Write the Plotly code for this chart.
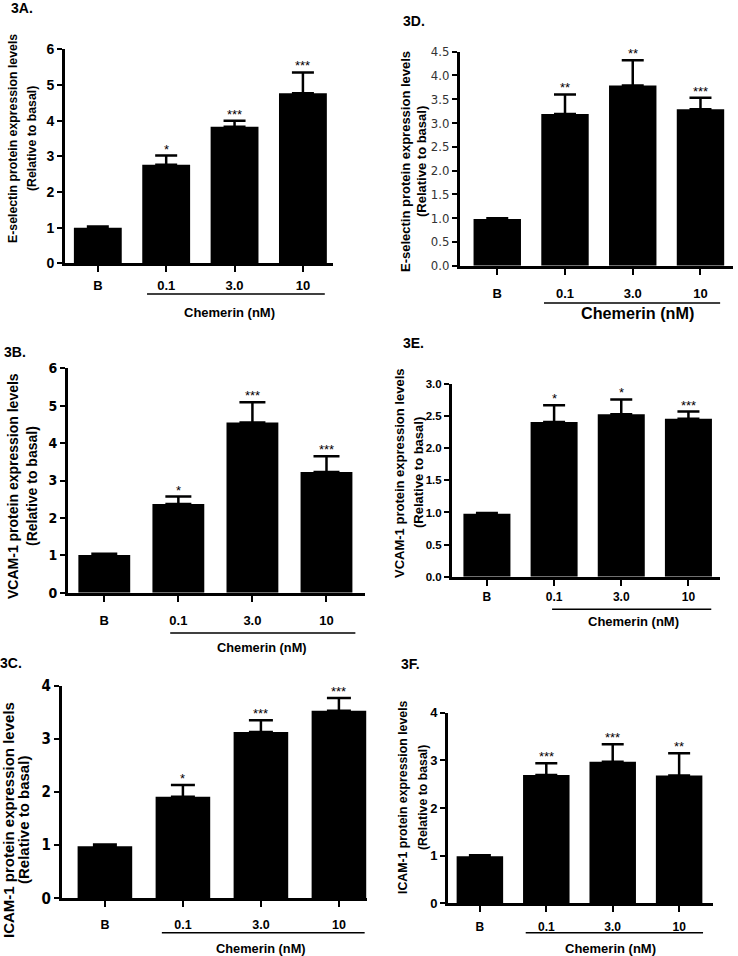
import plotly.graph_objects as go

W, H = 738, 956

# ---------------- data ----------------
categories = ["B", "0.1", "3.0", "10"]

esel_a_mean = [1.00, 2.76, 3.83, 4.77]
esel_a_err = [0.03, 0.26, 0.17, 0.58]
esel_a_sig = ["", "*", "***", "***"]

esel_d_mean = [0.98, 3.19, 3.79, 3.29]
esel_d_err = [0.02, 0.41, 0.53, 0.24]
esel_d_sig = ["", "**", "**", "***"]

vcam_b_mean = [1.01, 2.37, 4.55, 3.23]
vcam_b_err = [0.03, 0.20, 0.54, 0.42]
vcam_b_sig = ["", "*", "***", "***"]

vcam_e_mean = [0.98, 2.41, 2.53, 2.46]
vcam_e_err = [0.01, 0.26, 0.23, 0.11]
vcam_e_sig = ["", "*", "*", "***"]

icam_c_mean = [0.98, 1.91, 3.13, 3.53]
icam_c_err = [0.03, 0.22, 0.22, 0.24]
icam_c_sig = ["", "*", "***", "***"]

icam_f_mean = [0.99, 2.69, 2.97, 2.68]
icam_f_err = [0.02, 0.25, 0.37, 0.47]
icam_f_sig = ["", "***", "***", "**"]

group_label = "Chemerin (nM)"
ytitle_esel = "E-selectin protein expression levels"
ytitle_vcam = "VCAM-1 protein expression levels"
ytitle_icam = "ICAM-1 protein expression levels"
ytitle_sub = "(Relative to basal)"

# ---------------- layout config (pixels) ----------------
ARIAL = "Liberation Sans, Arial, sans-serif"
NARROW = "Liberation Sans Narrow, Arial Narrow, DejaVu Sans Condensed, sans-serif"

panels = [
    dict(label="3A.", lab_xy=(22, 8), mean=esel_a_mean, err=esel_a_err, sig=esel_a_sig,
         yt=ytitle_esel, yt_x=(13, 32), yt_y=139, yt_fs=12.3,
         x_px=(65, 333), y_px=(49.3, 263.3), xr=(-0.48, 3.44), yr=6, dtick=1, fmt="d",
         ytf=dict(family=ARIAL, size=14, color="black", weight="bold"),
         xfs=13, xlab_dist=19, ul=(0.72, 3.32, 294), gl=(1.93, 312, 13), cap=11),
    dict(label="3D.", lab_xy=(414, 21), mean=esel_d_mean, err=esel_d_err, sig=esel_d_sig,
         yt=ytitle_esel, yt_x=(406, 422), yt_y=162, yt_fs=13,
         x_px=(460, 733), y_px=(51.7, 265.7), xr=(-0.55, 3.48), yr=4.5, dtick=0.5, fmt=".1f",
         ytf=dict(family=NARROW, size=13, color="#333333", weight="normal"),
         xfs=13, xlab_dist=25, ul=(0.69, 3.29, 303), gl=(2.07, 313, 16.2), cap=11),
    dict(label="3B.", lab_xy=(15, 352), mean=vcam_b_mean, err=vcam_b_err, sig=vcam_b_sig,
         yt=ytitle_vcam, yt_x=(13, 32), yt_y=486, yt_fs=14,
         x_px=(68, 365), y_px=(368.3, 592.7), xr=(-0.49, 3.52), yr=6, dtick=1, fmt="d",
         ytf=dict(family=NARROW, size=14, color="black", weight="bold"),
         xfs=13, xlab_dist=25.5, ul=(0.89, 3.39, 633), gl=(2.13, 647, 12.8), cap=13),
    dict(label="3E.", lab_xy=(413, 343), mean=vcam_e_mean, err=vcam_e_err, sig=vcam_e_sig,
         yt=ytitle_vcam, yt_x=(399, 418), yt_y=473, yt_fs=13,
         x_px=(452, 720), y_px=(384, 576.7), xr=(-0.52, 3.47), yr=3, dtick=0.5, fmt=".1f",
         ytf=dict(family=ARIAL, size=11.5, color="black", weight="bold"),
         xfs=12, xlab_dist=18, ul=(0.97, 3.34, 609.3), gl=(2.18, 621.7, 13), cap=11),
    dict(label="3C.", lab_xy=(11, 663), mean=icam_c_mean, err=icam_c_err, sig=icam_c_sig,
         yt=ytitle_icam, yt_x=(8, 23), yt_y=820, yt_fs=15,
         x_px=(62, 367), y_px=(685.7, 898.3), xr=(-0.55, 3.36), yr=4, dtick=1, fmt="d",
         ytf=dict(family=NARROW, size=15, color="black", weight="bold"),
         xfs=12.5, xlab_dist=24, ul=(0.73, 3.33, 932.7), gl=(2.0, 948, 12.8), cap=12),
    dict(label="3F.", lab_xy=(410, 664), mean=icam_f_mean, err=icam_f_err, sig=icam_f_sig,
         yt=ytitle_icam, yt_x=(403, 423), yt_y=797, yt_fs=12.3,
         x_px=(448, 713), y_px=(712.7, 903.3), xr=(-0.48, 3.51), yr=4, dtick=1, fmt="d",
         ytf=dict(family=ARIAL, size=13, color="black", weight="bold"),
         xfs=12, xlab_dist=21, ul=(0.69, 3.36, 932.7), gl=(1.96, 948, 13), cap=11),
]

fig = go.Figure()
annotations = []
shapes = []
TICKLEN = 6

for i, p in enumerate(panels, start=1):
    xa = "x" if i == 1 else f"x{i}"
    ya = "y" if i == 1 else f"y{i}"
    fig.add_trace(go.Bar(
        x=categories, y=p["mean"], width=0.7, xaxis=xa, yaxis=ya,
        marker=dict(color="black", line=dict(width=0)),
        error_y=dict(type="data", symmetric=False, array=p["err"],
                     arrayminus=[0] * len(p["err"]), color="black",
                     thickness=2.5, width=p["cap"]),
        showlegend=False, hoverinfo="skip",
    ))
    x0, x1 = p["x_px"]
    yt, yb = p["y_px"]
    standoff = int(round(p["xlab_dist"] - TICKLEN - 5 - p["xfs"] / 2))
    fig.layout[("xaxis" if i == 1 else f"xaxis{i}")] = dict(
        domain=[x0 / W, x1 / W], anchor=ya, type="category", range=list(p["xr"]),
        showline=True, linewidth=3, linecolor="black", showgrid=False, zeroline=False,
        ticks="outside", ticklen=TICKLEN, tickwidth=2, tickcolor="black",
        ticklabelstandoff=standoff, automargin=False,
        tickfont=dict(family=ARIAL, size=p["xfs"], color="black", weight="bold"),
    )
    fig.layout[("yaxis" if i == 1 else f"yaxis{i}")] = dict(
        domain=[1 - yb / H, 1 - yt / H], anchor=xa, range=[0, p["yr"]],
        dtick=p["dtick"], tick0=0, tickformat=p["fmt"],
        showline=True, linewidth=3, linecolor="black", showgrid=False, zeroline=False,
        ticks="outside", ticklen=5, tickwidth=2, tickcolor="black", automargin=False,
        tickfont=p["ytf"],
    )
    # significance stars (x given as category index)
    for k, (m, e, s) in enumerate(zip(p["mean"], p["err"], p["sig"])):
        if s:
            annotations.append(dict(
                x=k, y=m + e, xref=xa, yref=ya, text=s, showarrow=False,
                yanchor="bottom", yshift=-3,
                font=dict(family=ARIAL, size=13, color="black"),
            ))
    # group underline and label
    ul0, ul1, uly = p["ul"]
    shapes.append(dict(type="line", xref=xa, yref="paper",
                       x0=ul0, x1=ul1, y0=1 - uly / H, y1=1 - uly / H,
                       line=dict(color="black", width=1.5)))
    gx, gy, gfs = p["gl"]
    annotations.append(dict(
        x=gx, y=1 - gy / H, xref=xa, yref="paper", text=group_label,
        showarrow=False, xanchor="center", yanchor="middle",
        font=dict(family=ARIAL, size=gfs, color="black", weight="bold"),
    ))
    # panel label
    lx, ly = p["lab_xy"]
    annotations.append(dict(
        x=lx / W, y=1 - ly / H, xref="paper", yref="paper", text=p["label"],
        showarrow=False, xanchor="center", yanchor="middle",
        font=dict(family=ARIAL, size=14, color="black", weight="bold"),
    ))
    # y-axis title (two lines)
    for txt, tx in zip([p["yt"], ytitle_sub], p["yt_x"]):
        annotations.append(dict(
            x=tx / W, y=1 - p["yt_y"] / H, xref="paper", yref="paper", text=txt,
            showarrow=False, textangle=-90, xanchor="center", yanchor="middle",
            font=dict(family=ARIAL, size=p["yt_fs"], color="black", weight="bold"),
        ))

fig.update_layout(
    width=W, height=H, margin=dict(l=0, r=0, t=0, b=0, autoexpand=False),
    paper_bgcolor="white", plot_bgcolor="white",
    annotations=annotations, shapes=shapes, bargap=0.3,
)

fig.write_html("out.html", config={"displayModeBar": False},
               post_script="document.body.style.margin='0';")
